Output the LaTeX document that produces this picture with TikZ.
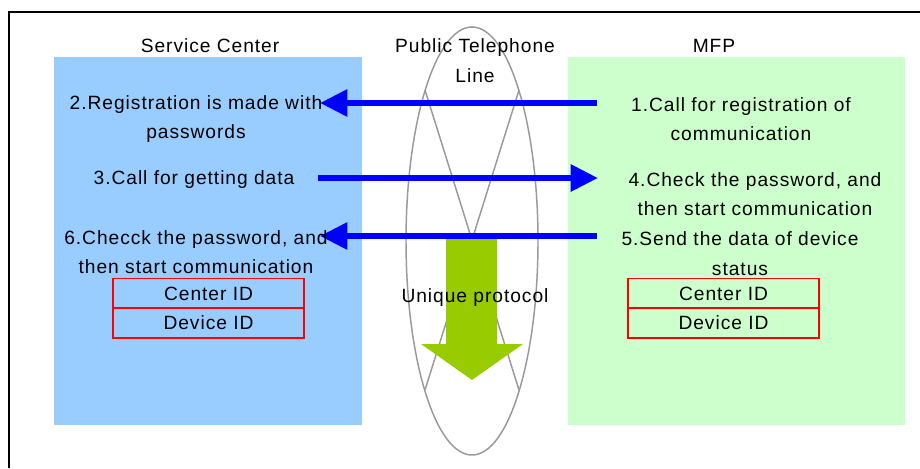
\documentclass[tikz,border=0pt]{standalone}
\usepackage{fontspec}
\newfontfamily\lbl[LetterSpace=5]{Liberation Sans}
\usetikzlibrary{arrows.meta}
\definecolor{scblue}{HTML}{99CCFF}
\definecolor{mfpgreen}{HTML}{CCFFCC}
\definecolor{arrowblue}{HTML}{0000FF}
\definecolor{protogreen}{HTML}{99CC00}
\definecolor{linegray}{HTML}{999999}
\begin{document}
\begin{tikzpicture}[x=0.75pt,y=-0.75pt,
  txt/.style={font=\lbl\fontsize{14.4}{22}\selectfont, align=center, inner sep=0pt, text=black},
  idbox/.style={draw=red, line width=1.2pt, minimum width=143.25pt, minimum height=22.5pt, inner sep=0pt, font=\lbl\fontsize{14.4}{22}\selectfont},
  flow/.style={draw=arrowblue, line width=4.5pt, -{Triangle[length=20.5pt,width=19.5pt]}, color=arrowblue},
  wire/.style={draw=linegray, line width=1.1pt}
]
\useasboundingbox (0,0) rectangle (920,468);
\fill[white] (0,0) rectangle (920,468);
% frame
\draw[line width=1.5pt] (9,468) -- (9,12) -- (920,12);
% panels
\fill[scblue] (54,57) rectangle (362,425);
\fill[mfpgreen] (568,57) rectangle (905,425);
% telephone line
\draw[wire] (472,241) ellipse [x radius=66, y radius=214];
\coordinate (w1) at (425,90);
\coordinate (w2) at (519,90);
\coordinate (w3) at (425,390);
\coordinate (w4) at (519,390);
\draw[wire] (w1) -- (w4);
\draw[wire] (w2) -- (w3);
% protocol arrow
\fill[protogreen] (446,237) -- (497,237) -- (497,344) -- (523,344) -- (472,380) -- (421,344) -- (446,344) -- cycle;
% blue arrows
\coordinate (a1s) at (597,103);
\coordinate (a1e) at (320,103);
\coordinate (a2s) at (318,178);
\coordinate (a2e) at (598,178);
\coordinate (a3s) at (597,236);
\coordinate (a3e) at (320,236);
\draw[flow] (a1s) -- (a1e);
\draw[flow] (a2s) -- (a2e);
\draw[flow] (a3s) -- (a3e);
% titles
\node[txt] (sc) at (210,46) {Service Center};
\node[txt] (ptl) at (475,60.5) {Public Telephone\\Line};
\node[txt] (mfp) at (714,46) {MFP};
% left texts
\node[txt] (t2) at (196,119) {2.Registration is made with\\passwords};
\node[txt] (t3) at (194,180) {3.Call for getting data};
\node[txt] (t6) at (196,252) {6.Checck the password, and\\then start communication};
% right texts
\node[txt] (t1) at (741,119) {1.Call for registration of\\communication};
\node[txt] (t4) at (755,194) {4.Check the password, and\\then start communication};
\node[txt] (t5) at (740,253.5) {5.Send the data of device\\status};
% protocol label
\node[txt] (up) at (475,298) {Unique protocol};
% ID boxes
\node[idbox] (lc) at (208.5,293.5) {Center ID};
\node[idbox] (ld) at (208.5,323) {Device ID};
\node[idbox] (rc) at (723.5,293.5) {Center ID};
\node[idbox] (rd) at (723.5,323) {Device ID};
\end{tikzpicture}
\end{document}
